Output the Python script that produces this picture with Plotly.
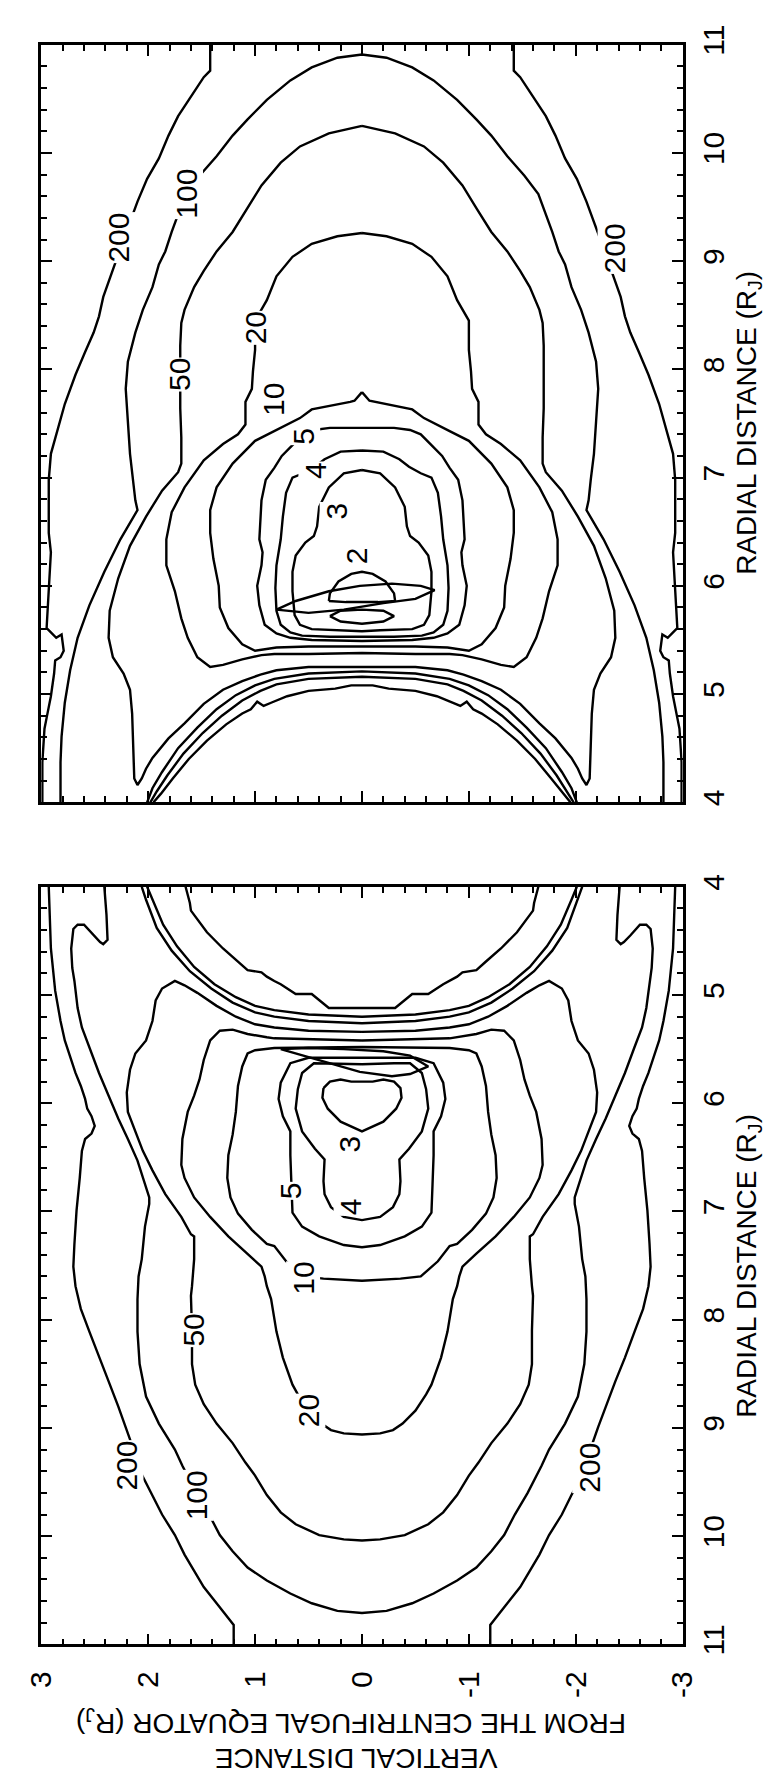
import plotly.graph_objects as go

# ---------------- data (z = vertical distance, r = radial distance, both in R_J) -------------
# Half-contours for the z >= 0 side; the figure is mirror-symmetric about the centrifugal equator.
# ---- upper panel (radial distance 11 at top, 4 at bottom) ----
TOP_200_HALF = [(1.42, 11.0), (1.42, 10.76), (1.48, 10.70), (1.60, 10.52), (1.72, 10.34), (1.81, 10.16),
                (1.90, 9.95), (2.01, 9.76), (2.10, 9.55), (2.23, 9.20), (2.36, 8.84), (2.42, 8.67),
                (2.46, 8.49), (2.51, 8.34), (2.59, 8.16), (2.68, 7.95), (2.78, 7.68), (2.86, 7.40),
                (2.91, 7.22), (2.93, 6.98), (2.93, 6.49), (2.91, 6.31), (2.93, 6.00), (2.95, 5.61),
                (2.91, 5.57), (2.86, 5.52), (2.81, 5.55), (2.79, 5.40), (2.82, 5.34), (2.87, 5.31),
                (2.88, 5.19), (2.91, 4.98), (2.95, 4.78), (2.97, 4.68), (2.99, 4.37), (2.99, 4.0)]
TOP_100_HALF = [(2.82, 4.0), (2.82, 4.37), (2.81, 4.61), (2.78, 4.92), (2.73, 5.22), (2.66, 5.52),
                (2.55, 5.82), (2.41, 6.13), (2.26, 6.43), (2.10, 6.70), (2.12, 6.79), (2.14, 6.98),
                (2.17, 7.22), (2.19, 7.52), (2.21, 7.82), (2.19, 8.07), (2.12, 8.34), (2.05, 8.55),
                (1.96, 8.76), (1.90, 8.97), (1.84, 9.09), (1.78, 9.27), (1.65, 9.62), (1.52, 9.79),
                (1.36, 9.97), (1.21, 10.16), (1.07, 10.31), (0.89, 10.49), (0.67, 10.67), (0.47, 10.79),
                (0.23, 10.88), (0.0, 10.91)]
TOP_50_HALF = [(0.0, 10.25), (0.31, 10.18), (0.58, 10.06), (0.76, 9.91), (0.94, 9.70), (1.07, 9.49),
               (1.21, 9.27), (1.36, 9.09), (1.48, 8.91), (1.57, 8.76), (1.66, 8.55), (1.69, 8.43),
               (1.70, 8.22), (1.70, 7.95), (1.70, 7.64), (1.69, 7.37), (1.69, 7.13), (1.72, 7.05),
               (1.87, 6.88), (2.02, 6.64), (2.17, 6.37), (2.28, 6.07), (2.36, 5.77), (2.37, 5.52),
               (2.33, 5.34), (2.23, 5.19), (2.17, 5.04), (2.15, 4.82), (2.14, 4.52), (2.13, 4.22),
               (2.10, 4.16), (2.06, 4.22), (2.02, 4.31), (1.96, 4.41), (1.81, 4.59), (1.66, 4.73),
               (1.48, 4.91), (1.30, 5.04), (1.12, 5.12), (0.95, 5.18), (0.80, 5.22), (0.50, 5.25),
               (0.0, 5.25)]
TOP_20_HALF = [(0.0, 9.26), (0.23, 9.23), (0.47, 9.16), (0.65, 9.04), (0.80, 8.86), (0.89, 8.64),
               (1.0, 8.45), (1.0, 8.18), (1.02, 7.98), (1.03, 7.82), (1.09, 7.70), (1.09, 7.49),
               (1.16, 7.40), (1.30, 7.31), (1.48, 7.16), (1.66, 6.91), (1.78, 6.68), (1.83, 6.43),
               (1.83, 6.19), (1.75, 5.95), (1.69, 5.70), (1.63, 5.52), (1.54, 5.34), (1.42, 5.25),
               (1.30, 5.27), (1.12, 5.32), (0.94, 5.36), (0.82, 5.37), (0.50, 5.37), (0.0, 5.38)]
TOP_10_HALF = [(0.0, 7.79), (0.07, 7.71), (0.11, 7.70), (0.31, 7.66), (0.47, 7.63), (0.58, 7.55),
               (0.70, 7.49), (0.82, 7.43), (1.0, 7.34), (1.21, 7.13), (1.36, 6.91), (1.42, 6.70),
               (1.42, 6.49), (1.39, 6.25), (1.34, 6.0), (1.33, 5.80), (1.25, 5.61), (1.12, 5.46),
               (1.0, 5.40), (0.80, 5.43), (0.50, 5.44), (0.0, 5.44)]
TOP_5_HALF = [(0.0, 7.46), (0.30, 7.46), (0.45, 7.44), (0.55, 7.40), (0.65, 7.30), (0.75, 7.20),
              (0.82, 7.09), (0.90, 6.98), (0.94, 6.79), (0.96, 6.43), (0.93, 6.31), (0.94, 6.19),
              (0.98, 6.0), (0.96, 5.82), (0.91, 5.64), (0.80, 5.56), (0.67, 5.52), (0.47, 5.50),
              (0.0, 5.49)]
TOP_4_HALF = [(0.0, 7.25), (0.20, 7.24), (0.35, 7.17), (0.44, 7.10), (0.55, 7.04), (0.65, 7.0),
              (0.71, 6.86), (0.74, 6.64), (0.76, 6.43), (0.80, 6.19), (0.81, 5.98), (0.80, 5.77),
              (0.76, 5.64), (0.67, 5.57), (0.56, 5.54), (0.30, 5.53), (0.0, 5.53)]
TOP_3_HALF = [(0.0, 7.07), (0.17, 7.04), (0.31, 6.91), (0.40, 6.73), (0.42, 6.55), (0.45, 6.46),
              (0.53, 6.40), (0.62, 6.28), (0.65, 6.13), (0.65, 5.95), (0.63, 5.73), (0.58, 5.64),
              (0.47, 5.60), (0.17, 5.59), (0.0, 5.58)]
TOP_BOWL_A_HALF = [(2.01, 4.0), (1.96, 4.13), (1.87, 4.28), (1.72, 4.50), (1.54, 4.69), (1.36, 4.86),
                   (1.18, 4.99), (1.0, 5.08), (0.82, 5.14), (0.50, 5.19), (0.0, 5.21)]
TOP_BOWL_B_HALF = [(1.98, 4.0), (1.92, 4.10), (1.82, 4.25), (1.67, 4.45), (1.49, 4.64), (1.31, 4.80),
                   (1.12, 4.94), (0.95, 5.03), (0.80, 5.09), (0.50, 5.14), (0.0, 5.16)]
TOP_BOWL_C_HALF = [(1.95, 4.0), (1.88, 4.08), (1.77, 4.22), (1.62, 4.40), (1.45, 4.57), (1.27, 4.72),
                   (1.12, 4.82), (1.04, 4.86), (0.98, 4.93), (0.92, 4.89), (0.85, 4.92), (0.70, 4.98),
                   (0.50, 5.03), (0.25, 5.05), (0.10, 5.08), (0.0, 5.08)]
TOP_RIBBON = [(0.80, 5.78), (0.62, 5.86), (0.31, 5.95), (0.02, 6.0), (-0.28, 6.02), (-0.55, 6.0),
              (-0.68, 5.96), (-0.50, 5.88), (-0.20, 5.84), (0.17, 5.78), (0.50, 5.75), (0.80, 5.78)]
TOP_LOBE_UPPER = [(0.31, 5.86), (0.30, 5.93), (0.22, 6.04), (0.10, 6.11), (0.0, 6.13), (-0.10, 6.11),
                  (-0.22, 6.04), (-0.30, 5.93), (-0.31, 5.86), (-0.15, 5.85), (0.15, 5.85), (0.31, 5.86)]
TOP_LOBE_LOWER = [(0.30, 5.72), (0.20, 5.67), (0.0, 5.65), (-0.20, 5.67), (-0.30, 5.72), (-0.20, 5.77),
                  (0.0, 5.78), (0.20, 5.77), (0.30, 5.72)]

# ---- lower panel (radial distance 4 at top, 11 at bottom) ----
BOT_200_HALF = [(2.93, 4.0), (2.91, 4.57), (2.87, 4.96), (2.82, 5.24), (2.78, 5.42), (2.73, 5.57),
                (2.68, 5.72), (2.63, 5.84), (2.59, 5.96), (2.57, 6.05), (2.53, 6.12), (2.50, 6.21),
                (2.53, 6.28), (2.59, 6.33), (2.62, 6.44), (2.64, 6.69), (2.67, 6.99), (2.69, 7.30),
                (2.70, 7.51), (2.68, 7.69), (2.63, 7.90), (2.55, 8.11), (2.46, 8.35), (2.37, 8.57),
                (2.28, 8.80), (2.21, 8.99), (2.15, 9.16), (2.06, 9.43), (1.96, 9.62), (1.87, 9.80),
                (1.75, 9.99), (1.66, 10.17), (1.57, 10.32), (1.48, 10.47), (1.36, 10.62), (1.25, 10.76),
                (1.20, 10.82), (1.20, 11.0)]
BOT_100_HALF = [(2.41, 4.0), (2.39, 4.26), (2.38, 4.49), (2.42, 4.53), (2.45, 4.51), (2.51, 4.45),
                (2.60, 4.35), (2.66, 4.35), (2.70, 4.39), (2.72, 4.57), (2.71, 4.75), (2.69, 4.87),
                (2.66, 5.12), (2.62, 5.30), (2.55, 5.48), (2.46, 5.72), (2.37, 5.93), (2.28, 6.14),
                (2.19, 6.33), (2.10, 6.53), (1.99, 6.87), (1.99, 6.93), (2.03, 7.14), (2.06, 7.44),
                (2.09, 7.60), (2.10, 7.81), (2.10, 8.11), (2.08, 8.41), (2.02, 8.71), (1.90, 8.96),
                (1.75, 9.20), (1.68, 9.35), (1.55, 9.60), (1.43, 9.80), (1.33, 9.99), (1.21, 10.14),
                (1.07, 10.29), (0.89, 10.41), (0.67, 10.53), (0.47, 10.62), (0.23, 10.69), (0.0, 10.71)]
BOT_50_HALF = [(0.0, 5.34), (0.50, 5.33), (0.82, 5.30), (1.0, 5.27), (1.18, 5.20), (1.36, 5.10),
               (1.54, 4.98), (1.66, 4.91), (1.75, 4.87), (1.87, 4.94), (1.93, 5.05), (1.96, 5.24),
               (2.02, 5.42), (2.12, 5.54), (2.17, 5.69), (2.20, 5.90), (2.19, 6.08), (2.12, 6.26),
               (2.05, 6.44), (1.96, 6.62), (1.84, 6.84), (1.69, 7.05), (1.60, 7.21), (1.57, 7.23),
               (1.57, 7.44), (1.59, 7.69), (1.60, 7.78), (1.59, 8.10), (1.59, 8.41), (1.56, 8.60),
               (1.48, 8.78), (1.36, 8.96), (1.21, 9.14), (1.09, 9.32), (1.0, 9.44), (0.89, 9.62),
               (0.76, 9.78), (0.62, 9.89), (0.40, 9.99), (0.17, 10.03), (0.0, 10.04)]
BOT_20_HALF = [(0.0, 5.42), (0.82, 5.40), (0.89, 5.39), (1.07, 5.36), (1.21, 5.32), (1.33, 5.33),
               (1.42, 5.42), (1.48, 5.60), (1.52, 5.78), (1.57, 5.93), (1.63, 6.08), (1.68, 6.33),
               (1.69, 6.57), (1.66, 6.69), (1.57, 6.87), (1.42, 7.05), (1.25, 7.23), (1.07, 7.39),
               (0.94, 7.51), (0.91, 7.60), (0.89, 7.69), (0.85, 7.81), (0.80, 8.11), (0.74, 8.35),
               (0.65, 8.60), (0.60, 8.69), (0.50, 8.84), (0.38, 8.96), (0.29, 9.02), (0.17, 9.05),
               (0.0, 9.06)]
BOT_10_HALF = [(0.0, 5.48), (0.82, 5.49), (1.0, 5.51), (1.07, 5.54), (1.12, 5.66), (1.16, 5.84),
               (1.18, 6.08), (1.21, 6.29), (1.25, 6.48), (1.26, 6.69), (1.23, 6.87), (1.16, 7.02),
               (1.03, 7.17), (0.89, 7.30), (0.82, 7.32), (0.71, 7.46), (0.55, 7.60), (0.36, 7.62),
               (0.0, 7.64)]
BOT_5_HALF = [(0.0, 5.58), (0.50, 5.58), (0.67, 5.63), (0.76, 5.81), (0.78, 5.96), (0.74, 6.12),
              (0.67, 6.26), (0.67, 6.48), (0.66, 6.75), (0.65, 7.01), (0.56, 7.14), (0.40, 7.23),
              (0.17, 7.31), (0.0, 7.33)]
BOT_4_HALF = [(0.0, 5.64), (0.30, 5.63), (0.45, 5.63), (0.56, 5.72), (0.60, 5.87), (0.62, 6.05),
              (0.56, 6.26), (0.44, 6.42), (0.35, 6.52), (0.36, 6.72), (0.35, 6.84), (0.29, 6.96),
              (0.17, 7.05), (0.0, 7.08)]
BOT_3_BLOB = [(0.36, 5.86), (0.30, 5.80), (0.20, 5.78), (0.10, 5.80), (0.0, 5.80), (-0.10, 5.80),
              (-0.20, 5.78), (-0.30, 5.80), (-0.36, 5.86), (-0.37, 5.95), (-0.32, 6.05), (-0.20, 6.17),
              (0.0, 6.26), (0.20, 6.17), (0.32, 6.05), (0.37, 5.95), (0.36, 5.86)]
BOT_RIBBON = [(0.76, 5.50), (0.50, 5.49), (0.17, 5.50), (-0.20, 5.52), (-0.45, 5.56), (-0.62, 5.66),
              (-0.45, 5.73), (-0.28, 5.75), (0.02, 5.71), (0.31, 5.63), (0.60, 5.55), (0.76, 5.50)]
BOT_BOWL_A_HALF = [(2.06, 4.0), (2.02, 4.12), (1.92, 4.38), (1.78, 4.59), (1.61, 4.78), (1.41, 4.94),
                   (1.21, 5.07), (1.0, 5.16), (0.82, 5.20), (0.50, 5.24), (0.0, 5.26)]
BOT_BOWL_B_HALF = [(2.01, 4.0), (1.96, 4.12), (1.86, 4.35), (1.73, 4.55), (1.57, 4.74), (1.38, 4.90),
                   (1.18, 5.02), (1.0, 5.10), (0.82, 5.14), (0.50, 5.18), (0.0, 5.20)]
BOT_BOWL_C_HALF = [(1.65, 4.0), (1.61, 4.15), (1.60, 4.22), (1.57, 4.26), (1.45, 4.42), (1.30, 4.57),
                   (1.16, 4.69), (1.07, 4.77), (0.94, 4.79), (0.89, 4.83), (0.82, 4.87), (0.76, 4.90),
                   (0.62, 4.99), (0.47, 4.99), (0.31, 5.12), (0.0, 5.12)]

# ---- contour labels ----
TOP_LABEL_TEXT = ["200", "100", "50", "20", "10", "5", "4", "3", "2", "200"]
TOP_LABEL_Z = [2.28, 1.65, 1.70, 1.0, 0.83, 0.55, 0.44, 0.24, 0.05, -2.36]
TOP_LABEL_R = [9.22, 9.62, 7.95, 8.38, 7.72, 7.38, 7.07, 6.69, 6.28, 9.12]
BOT_LABEL_TEXT = ["200", "100", "50", "20", "10", "5", "4", "3", "200"]
BOT_LABEL_Z = [2.20, 1.55, 1.58, 0.50, 0.55, 0.66, 0.11, 0.12, -2.13]
BOT_LABEL_R = [9.35, 9.62, 8.10, 8.84, 7.62, 6.81, 6.96, 6.38, 9.37]

# ---- axes ----
VD_TICKS = [3, 2, 1, 0, -1, -2, -3]
VD_TICKTEXT = ["3", "2", "1", "0", "-1", "-2", "-3"]
RD_TICKS = [4, 5, 6, 7, 8, 9, 10, 11]

# ---------------- figure ----------------
W, H = 773, 1783
FONT = "Liberation Sans"
fig = go.Figure()


def mirrored(half):
    return half + [(-z, r) for (z, r) in reversed(half)]


def add_line(pts, xa, ya):
    fig.add_trace(go.Scatter(x=[p[0] for p in pts], y=[p[1] for p in pts], mode="lines",
                             line=dict(color="black", width=2.4), xaxis=xa, yaxis=ya,
                             hoverinfo="skip", showlegend=False))


# upper panel
for side in (1, -1):
    add_line([(side * z, r) for z, r in TOP_200_HALF], "x", "y")
for half in (TOP_100_HALF, TOP_50_HALF, TOP_20_HALF, TOP_10_HALF, TOP_5_HALF, TOP_4_HALF, TOP_3_HALF,
             TOP_BOWL_A_HALF, TOP_BOWL_B_HALF, TOP_BOWL_C_HALF):
    add_line(mirrored(half), "x", "y")
for closed in (TOP_RIBBON, TOP_LOBE_UPPER, TOP_LOBE_LOWER):
    add_line(closed, "x", "y")

# lower panel
for side in (1, -1):
    add_line([(side * z, r) for z, r in BOT_200_HALF], "x2", "y2")
for half in (BOT_100_HALF, BOT_50_HALF, BOT_20_HALF, BOT_10_HALF, BOT_5_HALF, BOT_4_HALF,
             BOT_BOWL_A_HALF, BOT_BOWL_B_HALF, BOT_BOWL_C_HALF):
    add_line(mirrored(half), "x2", "y2")
for closed in (BOT_3_BLOB, BOT_RIBBON):
    add_line(closed, "x2", "y2")

tfont = dict(family=FONT, size=30, color="black")
title_font = dict(family=FONT, size=28, color="black")
annotations = []
for txt, z, r in zip(TOP_LABEL_TEXT, TOP_LABEL_Z, TOP_LABEL_R):
    annotations.append(dict(text=txt, x=z, y=r, xref="x", yref="y", showarrow=False, textangle=-90,
                            xanchor="center", yanchor="middle", font=tfont, bgcolor="white", borderpad=0))
for txt, z, r in zip(BOT_LABEL_TEXT, BOT_LABEL_Z, BOT_LABEL_R):
    annotations.append(dict(text=txt, x=z, y=r, xref="x2", yref="y2", showarrow=False, textangle=-90,
                            xanchor="center", yanchor="middle", font=tfont, bgcolor="white", borderpad=0))

# axis titles (the whole figure is turned a quarter turn)
title_kw = dict(xref="paper", yref="paper", showarrow=False, xanchor="center", yanchor="middle",
                font=title_font)
annotations.append(dict(text="RADIAL DISTANCE (R<sub>J</sub>)", x=755 / W, y=1 - 402 / H, textangle=-90,
                        **title_kw))
annotations.append(dict(text="RADIAL DISTANCE (R<sub>J</sub>)", x=755 / W, y=1 - 1260 / H, textangle=-90,
                        **title_kw))
annotations.append(dict(text="FROM THE CENTRIFUGAL EQUATOR (R<sub>J</sub>)", x=340 / W, y=1 - 1724 / H,
                        textangle=180, **title_kw))
annotations.append(dict(text="VERTICAL DISTANCE", x=346 / W, y=1 - 1761 / H, textangle=180, **title_kw))

common = dict(showline=True, linecolor="black", linewidth=2.6, mirror="ticks", ticks="inside", ticklen=11,
              tickwidth=2, tickcolor="black", showgrid=False, zeroline=False, tickfont=tfont,
              ticklabeloverflow="allow",
              minor=dict(ticks="inside", ticklen=6, tickwidth=2, tickcolor="black", dtick=0.2, showgrid=False))

xdom = [17 / W, 687 / W]
fig.update_layout(
    width=W, height=H, margin=dict(l=0, r=0, t=0, b=0), paper_bgcolor="white", plot_bgcolor="white",
    showlegend=False, annotations=annotations,
    xaxis=dict(domain=xdom, range=[3, -3], anchor="y", tickvals=VD_TICKS, showticklabels=False, **common),
    xaxis2=dict(domain=xdom, range=[3, -3], anchor="y2", tickvals=VD_TICKS, ticktext=VD_TICKTEXT,
                tickangle=-90, ticklabelstandoff=12, **common),
    yaxis=dict(domain=[1 - 788 / H, 1 - 17 / H], range=[4, 11], anchor="x", side="right", tickvals=RD_TICKS,
               tickangle=-90, ticklabelstandoff=3, **common),
    yaxis2=dict(domain=[1 - 1645 / H, 1 - 874 / H], range=[11, 4], anchor="x2", side="right",
                tickvals=RD_TICKS, tickangle=-90, ticklabelstandoff=3, **common),
)

fig.write_html("out.html")
